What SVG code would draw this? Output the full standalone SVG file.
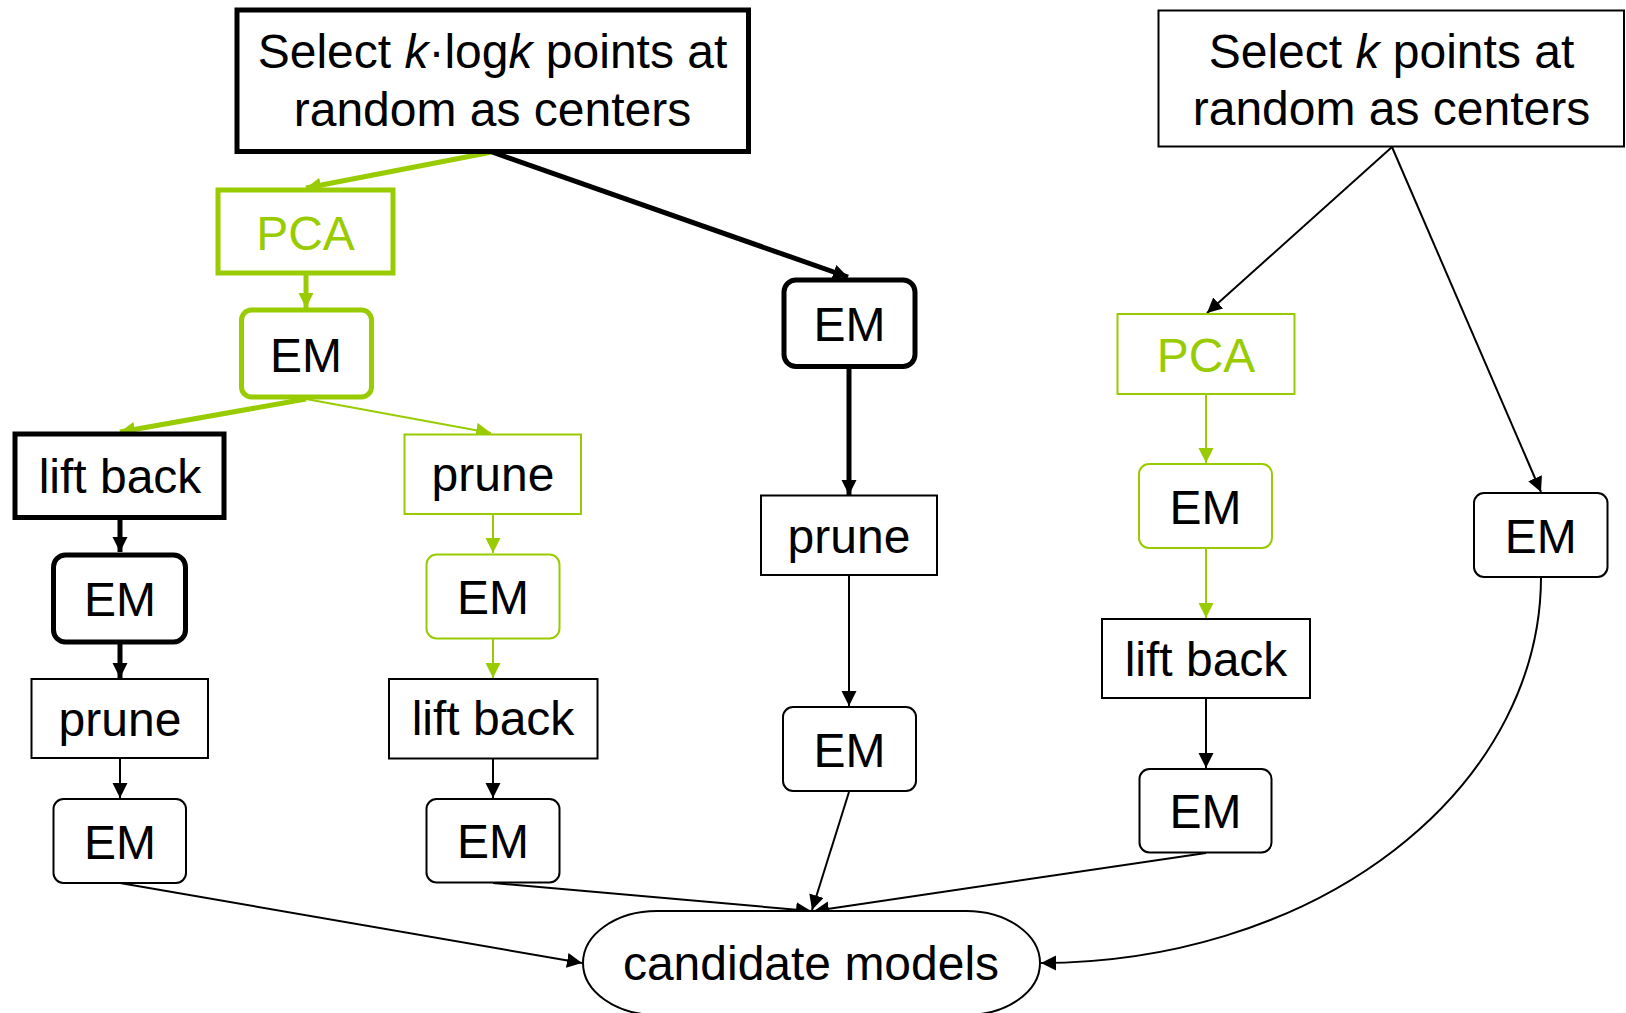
<svg xmlns="http://www.w3.org/2000/svg" width="1626" height="1013" viewBox="0 0 1626 1013">
<defs>
<style>
text{font-family:"Liberation Sans",Arial,sans-serif;font-size:48px;text-anchor:middle;fill:#000}
.g{fill:#99cc00}
.box{fill:#fff;stroke:#000;stroke-width:2}
.boxk{fill:#fff;stroke:#000;stroke-width:5}
.boxg{fill:#fff;stroke:#99cc00;stroke-width:2}
.boxgk{fill:#fff;stroke:#99cc00;stroke-width:5}
.c{fill:none;stroke:#000;stroke-width:2;marker-end:url(#ak)}
.ck{fill:none;stroke:#000;stroke-width:5;marker-end:url(#ak)}
.cg{fill:none;stroke:#99cc00;stroke-width:2;marker-end:url(#ag)}
.cgk{fill:none;stroke:#99cc00;stroke-width:5;marker-end:url(#ag)}
.i{font-style:italic}
</style>
<marker id="ak" markerUnits="userSpaceOnUse" markerWidth="16" markerHeight="16" refX="15" refY="7.5" orient="auto"><path d="M0,0 L15,7.5 L0,15 z" fill="#000"/></marker>
<marker id="ag" markerUnits="userSpaceOnUse" markerWidth="16" markerHeight="16" refX="15" refY="7.5" orient="auto"><path d="M0,0 L15,7.5 L0,15 z" fill="#99cc00"/></marker>
</defs>
<g id="connectors">
<path class="cgk" d="M492,152 L306,188"/>
<path class="ck" d="M492,152 L848,277"/>
<path class="cgk" d="M306,274 L306,308"/>
<path class="cgk" d="M306,399 L120,432"/>
<path class="cg" d="M306,399 L491,433"/>
<path class="ck" d="M120,518 L120,552"/>
<path class="ck" d="M120,644 L120,678"/>
<path class="c" d="M120,759 L120,798"/>
<path class="cg" d="M493,514 L493,553"/>
<path class="cg" d="M493,638 L493,678"/>
<path class="c" d="M493,759 L493,798"/>
<path class="ck" d="M849,368 L849,495"/>
<path class="c" d="M849,575 L849,706"/>
<path class="c" d="M1392,147 L1207,313"/>
<path class="c" d="M1392,147 L1541,492"/>
<path class="cg" d="M1206,394 L1206,463"/>
<path class="cg" d="M1206,548 L1206,618"/>
<path class="c" d="M1206,698 L1206,768"/>
<path class="c" d="M120,883 L582,963"/>
<path class="c" d="M493,883 L811,911"/>
<path class="c" d="M849,792 L812,910"/>
<path class="c" d="M1206,853 L814,911"/>
<path class="c" d="M1541,577 A500,386 0 0 1 1041,963"/>
</g>
<g id="n_top_left"><rect class="boxk" x="237" y="10" width="511.5" height="141.5"/><text x="492.5" y="68">Select <tspan class="i">k</tspan>·log<tspan class="i">k</tspan> points at</text><text x="492.5" y="126">random as centers</text></g>
<g id="n_top_right"><rect class="box" x="1158.5" y="10.5" width="465.5" height="136"/><text x="1391.5" y="68">Select <tspan class="i">k</tspan> points at</text><text x="1391.5" y="125">random as centers</text></g>
<g id="n_pca1"><rect class="boxgk" x="218" y="190" width="175" height="83"/><text class="g" x="305.5" y="250">PCA</text></g>
<g id="n_em1"><rect class="boxgk" x="241.5" y="310" width="130" height="87" rx="10"/><text x="306" y="372">EM</text></g>
<g id="n_lift1"><rect class="boxk" x="15" y="434" width="209" height="83.5"/><text x="120" y="493">lift back</text></g>
<g id="n_em2"><rect class="boxk" x="53.5" y="555" width="132" height="87" rx="12"/><text x="120" y="616">EM</text></g>
<g id="n_prune1"><rect class="box" x="31.5" y="679" width="176.5" height="79"/><text x="120" y="736">prune</text></g>
<g id="n_em3"><rect class="box" x="53.5" y="799" width="132.5" height="84" rx="10"/><text x="120" y="859">EM</text></g>
<g id="n_prune2"><rect class="boxg" x="404.5" y="434.5" width="176.5" height="79.5"/><text x="493" y="491">prune</text></g>
<g id="n_em4"><rect class="boxg" x="426.5" y="554.5" width="133" height="84" rx="10"/><text x="493" y="614">EM</text></g>
<g id="n_lift2"><rect class="box" x="389" y="679" width="208.5" height="79.5"/><text x="493" y="735">lift back</text></g>
<g id="n_em5"><rect class="box" x="426.5" y="799" width="133" height="83.5" rx="10"/><text x="493" y="858">EM</text></g>
<g id="n_em6"><rect class="boxk" x="784" y="280" width="131" height="86.5" rx="12"/><text x="849.5" y="341">EM</text></g>
<g id="n_prune3"><rect class="box" x="761" y="495.5" width="176" height="79.5"/><text x="849" y="553">prune</text></g>
<g id="n_em7"><rect class="box" x="783" y="707" width="133" height="84" rx="10"/><text x="849.5" y="767">EM</text></g>
<g id="n_pca2"><rect class="boxg" x="1117.5" y="314" width="177" height="80"/><text class="g" x="1206" y="372">PCA</text></g>
<g id="n_em8"><rect class="boxg" x="1139" y="464" width="133" height="84" rx="10"/><text x="1205.5" y="524">EM</text></g>
<g id="n_lift3"><rect class="box" x="1102" y="619" width="208" height="79"/><text x="1206" y="676">lift back</text></g>
<g id="n_em9"><rect class="box" x="1139.5" y="769" width="132" height="83.5" rx="10"/><text x="1205.5" y="828">EM</text></g>
<g id="n_em10"><rect class="box" x="1474" y="493" width="133.5" height="84" rx="10"/><text x="1540.7" y="553">EM</text></g>
<g id="n_candidate"><rect class="box" x="583" y="911" width="457" height="104" rx="74" ry="52"/><text x="811" y="980">candidate models</text></g>
</svg>
